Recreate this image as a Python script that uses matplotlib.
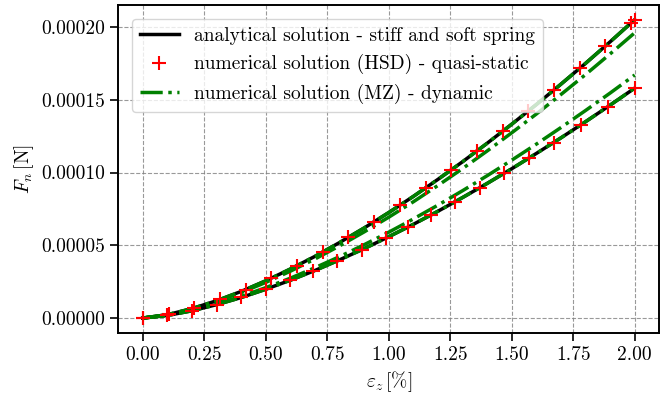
import matplotlib
matplotlib.use("Agg")
import matplotlib.pyplot as plt
from matplotlib.ticker import FormatStrFormatter

plt.rcParams['font.family'] = 'serif'
plt.rcParams['font.serif'] = ['cmr10']
plt.rcParams['mathtext.fontset'] = 'cm'
plt.rcParams['axes.formatter.use_mathtext'] = True
plt.rcParams['font.size'] = 14

# strain [%] for the smooth curves
eps = [0.0, 0.1, 0.2, 0.3, 0.4, 0.5, 0.6, 0.7, 0.8, 0.9, 1.0,
       1.1, 1.2, 1.3, 1.4, 1.5, 1.6, 1.7, 1.8, 1.9, 2.0]

# analytical solutions (values in 1e-5 N)
stiff = [0, 0.23, 0.65, 1.19, 1.83, 2.56, 3.37, 4.24, 5.19, 6.19, 7.25,
         8.36, 9.53, 10.74, 12.01, 13.32, 14.67, 16.07, 17.50, 18.98, 20.50]
soft = [0, 0.18, 0.50, 0.92, 1.41, 1.98, 2.60, 3.27, 4.00, 4.77, 5.59,
        6.44, 7.34, 8.28, 9.25, 10.26, 11.31, 12.38, 13.49, 14.63, 15.80]

# MZ dynamic (values in 1e-5 N)
mz_1 = stiff
mz_2 = [0, 0.22, 0.62, 1.14, 1.75, 2.45, 3.22, 4.06, 4.96, 5.92, 6.93,
        7.99, 9.11, 10.27, 11.48, 12.73, 14.02, 15.36, 16.73, 18.15, 19.60]
mz_3 = [0, 0.19, 0.53, 0.97, 1.49, 2.09, 2.74, 3.46, 4.22, 5.04, 5.90,
        6.81, 7.76, 8.75, 9.78, 10.85, 11.95, 13.09, 14.26, 15.46, 16.70]
mz_4 = soft

# HSD quasi-static points
hsd_eps_1 = [0, 0.105, 0.209, 0.314, 0.418, 0.523, 0.627, 0.732, 0.836, 0.941, 1.045,
             1.150, 1.254, 1.359, 1.463, 1.568, 1.672, 1.777, 1.881, 1.986, 2.0]
hsd_f_1 = [0, 0.247, 0.693, 1.275, 1.959, 2.741, 3.598, 4.539, 5.540, 6.616, 7.742,
           8.938, 10.18, 11.48, 12.83, 14.23, 15.67, 17.17, 18.70, 20.29, 20.50]
hsd_eps_2 = [0, 0.1, 0.2, 0.3, 0.4, 0.5, 0.6, 0.69, 0.79, 0.89, 0.99,
             1.08, 1.17, 1.27, 1.37, 1.47, 1.57, 1.67, 1.78, 1.89, 2.0]
hsd_f_2 = [0, 0.177, 0.500, 0.918, 1.413, 1.975, 2.596, 3.202, 3.922, 4.690, 5.503,
           6.270, 7.070, 7.995, 8.957, 9.956, 10.99, 12.06, 13.27, 14.51, 15.80]

sc = 1e-5

fig = plt.figure(figsize=(6.68, 3.96), dpi=100)
ax = fig.add_axes([0.177, 0.159, 0.81, 0.828])

ax.plot(eps, [v * sc for v in stiff], color='black', lw=2.5,
        label='analytical solution - stiff and soft spring')
ax.plot(eps, [v * sc for v in soft], color='black', lw=2.5)

ax.plot(hsd_eps_1, [v * sc for v in hsd_f_1], 'r+', ms=10, mew=1.5, zorder=4,
        label='numerical solution (HSD) - quasi-static')
ax.plot(hsd_eps_2, [v * sc for v in hsd_f_2], 'r+', ms=10, mew=1.5, zorder=4)

first = True
for mz in [mz_1, mz_2, mz_3, mz_4]:
    ax.plot(eps, [v * sc for v in mz], color='green', lw=2.5, ls='-.', zorder=3,
            label='numerical solution (MZ) - dynamic' if first else None)
    first = False

ax.yaxis.set_major_formatter(FormatStrFormatter('%.5f'))
ax.xaxis.set_major_formatter(FormatStrFormatter('%.2f'))
ax.set_xticks([0, 0.25, 0.5, 0.75, 1.0, 1.25, 1.5, 1.75, 2.0])
ax.set_yticks([0, 5e-5, 10e-5, 15e-5, 20e-5])
ax.set_xlim(-0.1, 2.1)
ax.set_ylim(-1.03e-5, 21.5e-5)

ax.grid(True, ls='--', color='gray', lw=0.8, alpha=0.8)
for s in ax.spines.values():
    s.set_linewidth(1.4)
ax.tick_params(width=1.2, length=6)

ax.set_xlabel(r'$\varepsilon_z\,[\%]$')
ax.set_ylabel(r'$F_n\,[\mathrm{N}]$')
ax.legend(loc='upper left', borderaxespad=0.7)

fig.savefig('out.png', dpi=100)
